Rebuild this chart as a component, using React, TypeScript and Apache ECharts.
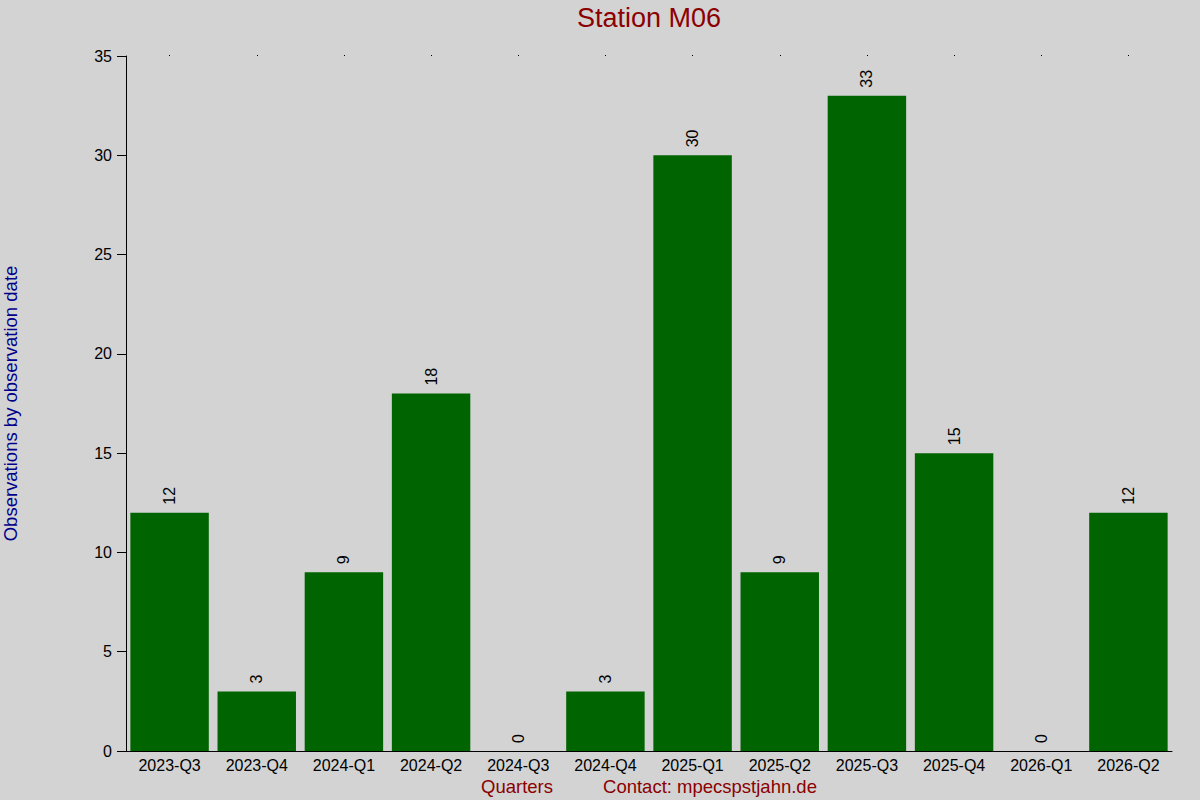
import React, { useEffect, useRef } from 'react';
import * as echarts from 'echarts';

const quarters = [
  '2023-Q3', '2023-Q4', '2024-Q1', '2024-Q2', '2024-Q3', '2024-Q4',
  '2025-Q1', '2025-Q2', '2025-Q3', '2025-Q4', '2026-Q1', '2026-Q2'
];
const observations = [12, 3, 9, 18, 0, 3, 30, 9, 33, 15, 0, 12];
const chartTitle = 'Station M06';
const yAxisTitle = 'Observations by observation date';
const xAxisTitle = 'Quarters';
const contactText = 'Contact: mpecspstjahn.de';

const FONT = '"Liberation Sans", Arial, sans-serif';

const App: React.FC = () => {
  const chartRef = useRef<HTMLDivElement>(null);

  useEffect(() => {
    if (!chartRef.current) return;
    const chart = echarts.init(chartRef.current, null, { renderer: 'svg' });

    const option: any = {
      animation: false,
      backgroundColor: '#D3D3D3',
      textStyle: { fontFamily: FONT },
      grid: {
        left: 126, right: 28, top: 56, bottom: 49,
        containLabel: false, outerBoundsMode: 'none'
      },
      graphic: [
        {
          type: 'text',
          x: 649,
          y: 18,
          style: {
            text: chartTitle,
            fill: '#8B0000',
            font: `27px ${FONT}`,
            textAlign: 'center',
            textVerticalAlign: 'middle'
          }
        },
        {
          type: 'text',
          x: 517,
          y: 786,
          style: {
            text: xAxisTitle,
            fill: '#8B0000',
            font: `18.5px ${FONT}`,
            textAlign: 'center',
            textVerticalAlign: 'middle'
          }
        },
        {
          type: 'text',
          x: 710,
          y: 786,
          style: {
            text: contactText,
            fill: '#8B0000',
            font: `18.5px ${FONT}`,
            textAlign: 'center',
            textVerticalAlign: 'middle'
          }
        }
      ],
      xAxis: [
        {
          type: 'category',
          data: quarters,
          position: 'bottom',
          axisLine: { show: true, lineStyle: { color: '#000', width: 1 } },
          axisTick: { show: false },
          axisLabel: { color: '#000', fontSize: 16, fontFamily: FONT, margin: 6, interval: 0 }
        },
        {
          // dotted tick marks along the top edge
          type: 'category',
          data: quarters,
          position: 'top',
          axisLine: { show: false },
          axisTick: { show: true, alignWithLabel: true, length: 1, lineStyle: { color: '#000' } },
          axisLabel: { show: false }
        }
      ],
      yAxis: {
        type: 'value',
        min: 0,
        max: 35,
        interval: 5,
        name: yAxisTitle,
        nameLocation: 'middle',
        nameGap: 106,
        nameTextStyle: { color: '#00008B', fontSize: 18.5, fontFamily: FONT },
        axisLine: { show: true, lineStyle: { color: '#000', width: 1 } },
        axisTick: { show: true, length: 9, lineStyle: { color: '#000' } },
        axisLabel: { color: '#000', fontSize: 16, fontFamily: FONT, margin: 14 },
        splitLine: { show: false }
      },
      series: [
        {
          type: 'bar',
          data: observations,
          barCategoryGap: '10%',
          itemStyle: { color: '#006400' },
          label: {
            show: true,
            position: 'top',
            rotate: 90,
            align: 'left',
            verticalAlign: 'middle',
            distance: 8,
            color: '#000',
            fontSize: 16,
            fontFamily: FONT
          }
        }
      ]
    };

    chart.setOption(option);
    return () => chart.dispose();
  }, []);

  return (
    <div
      ref={chartRef}
      style={{ position: 'fixed', left: 0, top: 0, width: '1200px', height: '800px' }}
    />
  );
};

export default App;
